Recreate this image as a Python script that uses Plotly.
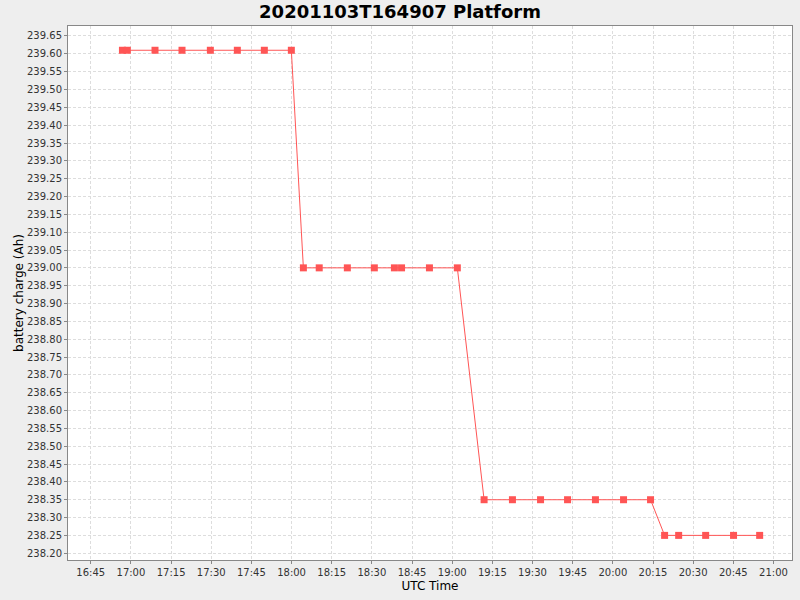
import pandas as pd
import plotly.graph_objects as go

# sample times (UTC) and battery charge readings
times = [
    "2020-11-03 16:56:50", "2020-11-03 16:58:40", "2020-11-03 17:09:00", "2020-11-03 17:19:05",
    "2020-11-03 17:29:40", "2020-11-03 17:39:45", "2020-11-03 17:49:50", "2020-11-03 17:59:55",
    "2020-11-03 18:04:25", "2020-11-03 18:10:20", "2020-11-03 18:20:50", "2020-11-03 18:30:55",
    "2020-11-03 18:38:25", "2020-11-03 18:41:05", "2020-11-03 18:51:30", "2020-11-03 19:01:55",
    "2020-11-03 19:11:55", "2020-11-03 19:22:30", "2020-11-03 19:33:00", "2020-11-03 19:43:05",
    "2020-11-03 19:53:30", "2020-11-03 20:04:00", "2020-11-03 20:14:05", "2020-11-03 20:19:20",
    "2020-11-03 20:24:35", "2020-11-03 20:34:40", "2020-11-03 20:45:05", "2020-11-03 20:54:50",
]
charge = [
    239.61, 239.61, 239.61, 239.61, 239.61, 239.61, 239.61, 239.61,
    239.00, 239.00, 239.00, 239.00, 239.00, 239.00, 239.00, 239.00,
    238.35, 238.35, 238.35, 238.35, 238.35, 238.35, 238.35,
    238.25, 238.25, 238.25, 238.25, 238.25,
]

df = pd.DataFrame({"time": pd.to_datetime(times), "charge": charge})

font = "DejaVu Sans"
grid = "#DDDDDD"

trace = go.Scatter(
    x=df["time"],
    y=df["charge"],
    mode="lines+markers",
    line=dict(color="#FF5555", width=1),
    marker=dict(symbol="square", size=7, color="#FF5555"),
    showlegend=False,
)

layout = go.Layout(
    width=800,
    height=600,
    paper_bgcolor="#EEEEEE",
    plot_bgcolor="white",
    margin=dict(l=68, r=8, t=26, b=40),
    title=dict(
        text="<b>20201103T164907 Platform</b>",
        x=0.5, xanchor="center", y=0.981, yanchor="middle",
        font=dict(family=font, size=18, color="black"),
    ),
    xaxis=dict(
        title=dict(text="UTC Time", font=dict(family=font, size=12, color="black"), standoff=4),
        automargin=False,
        range=["2020-11-03 16:36:30", "2020-11-03 21:06:55"],
        tickformat="%H:%M",
        dtick=15 * 60 * 1000,
        tick0="2020-11-03 16:45:00",
        tickfont=dict(family=font, size=10, color="#333333"),
        ticks="outside", ticklen=3, tickcolor="#888888",
        showgrid=True, gridcolor=grid, griddash="3px,2px", gridwidth=1,
        showline=True, linecolor="#888888", linewidth=1, mirror=True,
        zeroline=False,
    ),
    yaxis=dict(
        title=dict(text="battery charge (Ah)", font=dict(family=font, size=12, color="black"), standoff=0),
        automargin=False,
        range=[238.181, 239.678],
        dtick=0.05,
        tick0=238.2,
        tickformat=".2f",
        tickfont=dict(family=font, size=10, color="#333333"),
        ticks="outside", ticklen=3, tickcolor="#888888",
        showgrid=True, gridcolor=grid, griddash="3px,2px", gridwidth=1,
        showline=True, linecolor="#888888", linewidth=1, mirror=True,
        zeroline=False,
    ),
)

fig = go.Figure(data=[trace], layout=layout)
# drop the page's default body margin so the figure sits at the window corner
fig.write_html(
    "out.html",
    config={"displayModeBar": False},
    post_script="document.body.style.margin='0';",
)
